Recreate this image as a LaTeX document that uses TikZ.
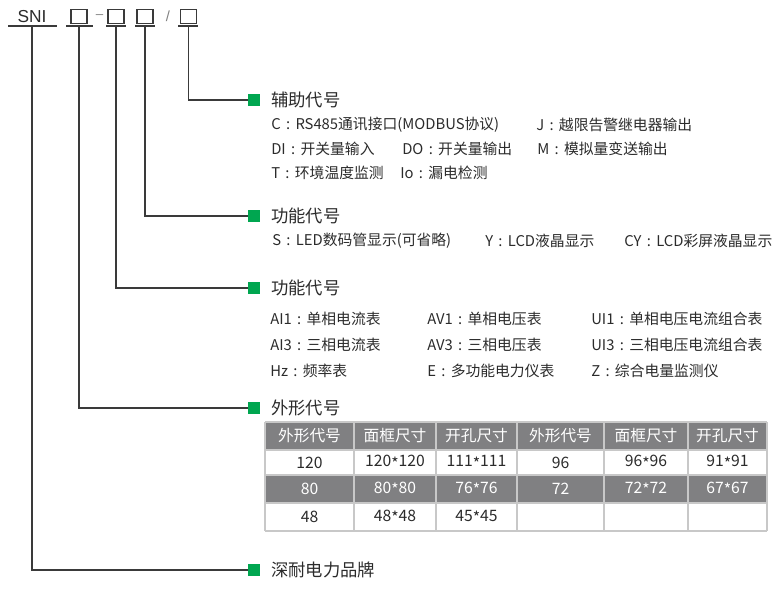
\documentclass[tikz,border=0pt]{standalone}
\usepackage{fontspec}
\setmainfont{Noto Sans CJK SC}
\newfontfamily\snifont{Liberation Sans}
\usetikzlibrary{positioning}
\definecolor{txt}{HTML}{2B2B2B}
\definecolor{linecol}{HTML}{3A3A3A}
\definecolor{markgreen}{HTML}{00A650}
\definecolor{tabgray}{HTML}{808082}
\definecolor{gridgray}{HTML}{C8C8C8}
\newcommand{\cln}{\makebox[1em][c]{:}}
\newcommand{\tms}{\raisebox{-0.3ex}{*}}

\begin{document}
\begin{tikzpicture}[x=0.75pt, y=-0.75pt, every node/.style={font=\fontsize{11.1}{13}\selectfont, text=txt, inner sep=0pt},
	lead/.style={draw=linecol, line width=0.8pt}, gsq/.style={fill=markgreen, minimum size=9pt},
	head/.style={font=\fontsize{13}{15}\selectfont}, item/.style={anchor=west},
	cbox/.style={draw=linecol, line width=0.8pt, minimum width=12pt, minimum height=10.5pt},
	cell/.style={font=\fontsize{11.8}{14}\selectfont}, grid/.style={draw=gridgray, line width=0.9pt}]
	\useasboundingbox (0,0) rectangle (782,613);
	\coordinate (ul) at (0,26);
	\node[font=\snifont\fontsize{13}{15}\selectfont] (sni) at (32,17) {SNI};
	\node[cbox] (b1) at (79,16.5) {};
	\node[font=\snifont\fontsize{10}{12}\selectfont, text=gray] (dash) at (99.5,16.5) {–};
	\node[cbox] (b2) at (116,16.5) {};
	\node[cbox] (b3) at (145,16.5) {};
	\node[font=\snifont\fontsize{11}{13}\selectfont, text=gray] (slash) at (168,16) {/};
	\node[cbox] (b4) at (188.5,16.5) {};
	\foreach \a/\b in {8/57,66/93,106/126,135/155,178/198} \draw[lead] (\a,26) -- (\b,26);

	\node[gsq] (q1) at (254,100) {};
	\node[gsq] (q2) at (254,216) {};
	\node[gsq] (q3) at (254,288) {};
	\node[gsq] (q4) at (254,408) {};
	\node[gsq] (q5) at (254,570) {};
	\node[head, right=8pt of q1] (h1) {辅助代号};
	\node[head, right=8pt of q2] (h2) {功能代号};
	\node[head, right=8pt of q3] (h3) {功能代号};
	\node[head, right=8pt of q4] (h4) {外形代号};
	\node[head, right=8pt of q5] (h5) {深耐电力品牌};

	\draw[lead] (b4 |- ul) |- (q1.west);
	\draw[lead] (b3 |- ul) |- (q2.west);
	\draw[lead] (b2 |- ul) |- (q3.west);
	\draw[lead] (b1 |- ul) |- (q4.west);
	\draw[lead] (sni |- ul) |- (q5.west);

	\node[item] (c) at (271,125) {C\cln RS485通讯接口(MODBUS协议)};
	\node[item] (j) at (536,125) {J\cln 越限告警继电器输出};
	\node[item] (di) at (271,149) {DI\cln 开关量输入};
	\node[item] (do) at (402,149) {DO\cln 开关量输出};
	\node[item] (m) at (537,149) {M\cln 模拟量变送输出};
	\node[item] (t) at (271,173) {T\cln 环境温度监测};
	\node[item] (io) at (400,173) {Io\cln 漏电检测};

	\node[item] (s) at (272,241) {S\cln LED数码管显示(可省略)};
	\node[item] (y) at (485,241) {Y\cln LCD液晶显示};
	\node[item] (cy) at (624,241) {CY\cln LCD彩屏液晶显示};

	\node[item] (ai1) at (270,319) {AI1\cln 单相电流表};
	\node[item] (av1) at (427,319) {AV1\cln 单相电压表};
	\node[item] (ui1) at (591,319) {UI1\cln 单相电压电流组合表};
	\node[item] (ai3) at (270,345) {AI3\cln 三相电流表};
	\node[item] (av3) at (427,345) {AV3\cln 三相电压表};
	\node[item] (ui3) at (591,345) {UI3\cln 三相电压电流组合表};
	\node[item] (hz) at (270,371) {Hz\cln 频率表};
	\node[item] (e) at (427,371) {E\cln 多功能电力仪表};
	\node[item] (z) at (591,371) {Z\cln 综合电量监测仪};

	\fill[tabgray] (265,422) rectangle (767,450);
	\fill[tabgray] (265,475) rectangle (767,503);
	\foreach \x in {265,354,436,517,604,688,767} \draw[grid] (\x,422) -- (\x,531);
	\foreach \y in {422,450,475,503,531} \draw[grid] (265,\y) -- (767,\y);
	\foreach \x/\t [count=\i] in {309.5/外形代号,395/面框尺寸,476.5/开孔尺寸,560.5/外形代号,646/面框尺寸,727.5/开孔尺寸}
		\node[cell, text=white] (th\i) at (\x,436) {\t};
	\foreach \x/\a/\b [count=\i] in {309.5/120/80,395/120\tms120/80\tms80,476.5/111\tms111/76\tms76,560.5/96/72,646/96\tms96/72\tms72,727.5/91\tms91/67\tms67} {
		\node[cell] (ra\i) at (\x,462.5) {\a};
		\node[cell, text=white] (rb\i) at (\x,489) {\b};
	}
	\foreach \x/\c [count=\i] in {309.5/48,395/48\tms48,476.5/45\tms45}
		\node[cell] (rc\i) at (\x,517) {\c};
\end{tikzpicture}
\end{document}
